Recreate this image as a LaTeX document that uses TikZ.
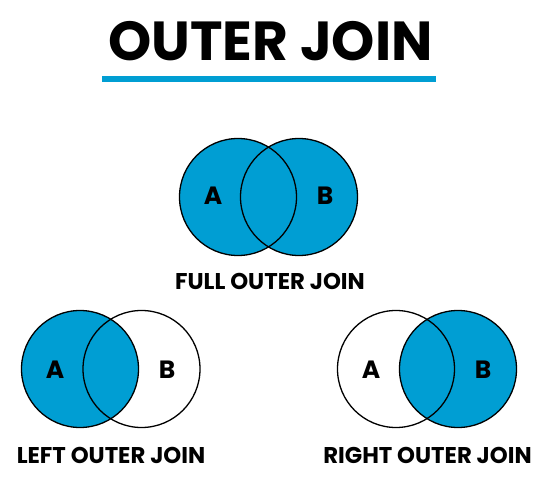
\documentclass[tikz,border=0pt]{standalone}
\usepackage{fontspec}
\setmainfont{Poppins}
\definecolor{joinblue}{RGB}{0,158,211}
\tikzset{
  set/.style={circle,draw,line width=1.3pt,minimum size=117pt,inner sep=0pt},
  setname/.style={font=\bfseries\fontsize{25}{25}\selectfont,inner sep=0pt},
  joinlabel/.style={font=\bfseries\fontsize{22.8}{22.8}\selectfont,inner sep=0pt}
}
\begin{document}
\begin{tikzpicture}[x=1pt,y=-1pt]
\useasboundingbox[fill=white] (0,0) rectangle (539,484);
% title
\node[font=\bfseries\fontsize{55}{55}\selectfont,inner sep=0pt] (title) at (270.5,41) {OUTER JOIN};
\fill[joinblue] (102,76) rectangle (436,82);
% full outer join
\coordinate (FA) at (238,197);
\coordinate (FB) at (299,197);
\fill[joinblue] (FA) circle[radius=58.5pt];
\fill[joinblue] (FB) circle[radius=58.5pt];
\node[set] (fa) at (FA) {};
\node[set] (fb) at (FB) {};
\node[setname] at (213,196) {A};
\node[setname] at (325,196) {B};
\node[joinlabel] (full) at (270,281) {FULL OUTER JOIN};
% left outer join
\coordinate (LA) at (80,369);
\coordinate (LB) at (141.5,369);
\fill[joinblue] (LA) circle[radius=58.5pt];
\node[set] (la) at (LA) {};
\node[set] (lb) at (LB) {};
\node[setname] at (55,370) {A};
\node[setname] at (167,370) {B};
\node[joinlabel] (left) at (111,455) {LEFT OUTER JOIN};
% right outer join
\coordinate (RA) at (396,369);
\coordinate (RB) at (458,369);
\fill[joinblue] (RB) circle[radius=58.5pt];
\node[set] (ra) at (RA) {};
\node[set] (rb) at (RB) {};
\node[setname] at (371,370) {A};
\node[setname] at (483,370) {B};
\node[joinlabel] (right) at (427.5,455) {RIGHT OUTER JOIN};
\end{tikzpicture}
\end{document}
